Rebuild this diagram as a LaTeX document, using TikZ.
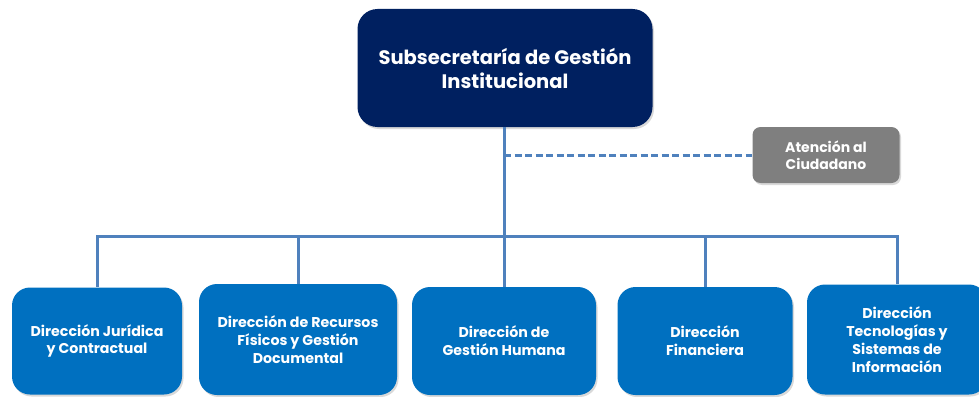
\documentclass[tikz,border=0pt]{standalone}
\usepackage{fontspec}
\setmainfont{Poppins}
\usetikzlibrary{shadows}
\definecolor{navy}{HTML}{002060}
\definecolor{dirblue}{HTML}{0070C0}
\definecolor{linkblue}{HTML}{4F81BD}
\definecolor{boxgray}{HTML}{7F7F7F}
\begin{document}
\begin{tikzpicture}[x=1pt,y=-1pt,
	box/.style={rounded corners=18pt, text=white, align=center, inner sep=0pt,
		font=\bfseries\fontsize{14.2}{17.8}\selectfont,
		drop shadow={shadow xshift=1.5pt,shadow yshift=-2pt,opacity=0.3}},
	dirbox/.style={box, fill=dirblue},
	link/.style={linkblue, line width=3pt}]
	\useasboundingbox (0,0) rectangle (979,396);
	\node [box, fill=navy, minimum width=295pt, minimum height=118pt, rounded corners=20pt,
		font=\bfseries\fontsize{19.5}{24}\selectfont] (sub) at (505,68) {Subsecretaría de Gestión\\Institucional};
	\node [box, fill=boxgray, minimum width=147pt, minimum height=56pt, rounded corners=8pt,
		font=\bfseries\fontsize{14}{17}\selectfont] (aten) at (826,155) {Atención al\\Ciudadano};
	\node [dirbox, minimum width=170pt, minimum height=107pt] (jur) at (97,341) {Dirección Jurídica\\y Contractual};
	\node [dirbox, minimum width=198pt, minimum height=111pt] (rec) at (298,339.5) {Dirección de Recursos\\Físicos y Gestión\\Documental};
	\node [dirbox, minimum width=184pt, minimum height=108pt] (hum) at (504,341) {Dirección de\\Gestión Humana};
	\node [dirbox, minimum width=175pt, minimum height=108pt] (fin) at (705,341) {Dirección\\Financiera};
	\node [dirbox, minimum width=180pt, minimum height=110pt] (tec) at (897,339.5) {Dirección\\Tecnologías y\\Sistemas de\\Información};
	\coordinate (bus) at (504,236);
	\coordinate (tap) at (504,155);
	\draw [link] (sub.south -| bus) -- (bus);
	\draw [link, dashed, dash pattern=on 7pt off 3.5pt] (tap) -- (aten);
	\draw [link] (bus) -| (jur);
	\draw [link] (bus) -| (rec);
	\draw [link] (bus) -- (hum);
	\draw [link] (bus) -| (fin);
	\draw [link] (bus) -| (tec);
\end{tikzpicture}
\end{document}
